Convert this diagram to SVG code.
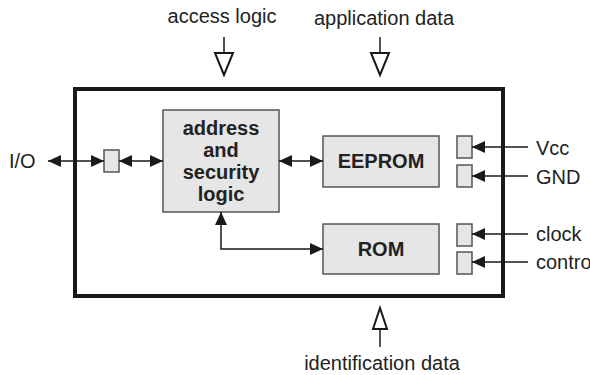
<svg xmlns="http://www.w3.org/2000/svg" width="590" height="375" viewBox="0 0 590 375">
<defs>
<marker id="fa" viewBox="0 0 13 12" refX="13" refY="6" markerWidth="13" markerHeight="12" markerUnits="userSpaceOnUse" orient="auto-start-reverse">
<path d="M0,0 L13,6 L0,12 Z" fill="#1a1a1a"/>
</marker>
<style>
text{font-family:"Liberation Sans",Arial,sans-serif;fill:#222}
.lbl{font-size:20px}
.b{font-size:20px;font-weight:bold;text-anchor:middle}
.blk{fill:#e6e6e6;stroke:#555;stroke-width:1.5}
.pin{fill:#e6e6e6;stroke:#555;stroke-width:1.5}
.ln{stroke:#1a1a1a;stroke-width:1.5;fill:none}
.oa{fill:#fff;stroke:#1a1a1a;stroke-width:2}
</style>
</defs>
<rect width="590" height="375" fill="#fff"/>
<g id="chip"><rect x="75" y="89" width="428" height="207" fill="#fff" stroke="#1a1a1a" stroke-width="4"/></g>
<g id="address"><rect class="blk" x="163" y="110" width="116" height="102"/>
<text class="b" x="221" y="135">address</text>
<text class="b" x="221" y="157">and</text>
<text class="b" x="221" y="179">security</text>
<text class="b" x="221" y="201">logic</text></g>
<g id="eeprom"><rect class="blk" x="323" y="136" width="116" height="51"/><text class="b" x="381" y="168">EEPROM</text></g>
<g id="rom"><rect class="blk" x="323" y="224" width="116" height="50"/><text class="b" x="381" y="256">ROM</text></g>
<g id="io-pin"><rect class="pin" x="104" y="150" width="15" height="22"/></g>
<g id="vcc-pin"><rect class="pin" x="457" y="136" width="15" height="22"/></g>
<g id="gnd-pin"><rect class="pin" x="457" y="165" width="15" height="22"/></g>
<g id="clock-pin"><rect class="pin" x="457" y="224" width="15" height="22"/></g>
<g id="control-pin"><rect class="pin" x="457" y="252" width="15" height="22"/></g>
<g id="labels">
<text class="lbl" x="9" y="168">I/O</text>
<text class="lbl" x="536" y="155">Vcc</text>
<text class="lbl" x="536" y="184">GND</text>
<text class="lbl" x="536" y="241">clock</text>
<text class="lbl" x="536" y="269">control</text>
<text class="lbl" x="222" y="23" text-anchor="middle">access logic</text>
<text class="lbl" x="384" y="25" text-anchor="middle">application data</text>
<text class="lbl" x="382" y="370" text-anchor="middle">identification data</text>
</g>
<g id="connectors">
<line class="ln" x1="48" y1="161" x2="104" y2="161" marker-start="url(#fa)" marker-end="url(#fa)"/>
<line class="ln" x1="119" y1="161" x2="163" y2="161" marker-start="url(#fa)" marker-end="url(#fa)"/>
<line class="ln" x1="279" y1="161" x2="323" y2="161" marker-start="url(#fa)" marker-end="url(#fa)"/>
<polyline class="ln" points="221,212 221,249 323,249" marker-start="url(#fa)" marker-end="url(#fa)"/>
<line class="ln" x1="528" y1="147" x2="472" y2="147" marker-end="url(#fa)"/>
<line class="ln" x1="528" y1="176" x2="472" y2="176" marker-end="url(#fa)"/>
<line class="ln" x1="528" y1="234" x2="472" y2="234" marker-end="url(#fa)"/>
<line class="ln" x1="528" y1="262" x2="472" y2="262" marker-end="url(#fa)"/>
<line class="ln" x1="224" y1="37" x2="224" y2="53"/>
<path class="oa" d="M215,53 L233,53 L224,75 Z"/>
<line class="ln" x1="380" y1="37" x2="380" y2="53"/>
<path class="oa" d="M371,53 L389,53 L380,75 Z"/>
<line class="ln" x1="380" y1="329" x2="380" y2="347"/>
<path class="oa" d="M373,329 L387,329 L380,308 Z"/>
</g>
</svg>
